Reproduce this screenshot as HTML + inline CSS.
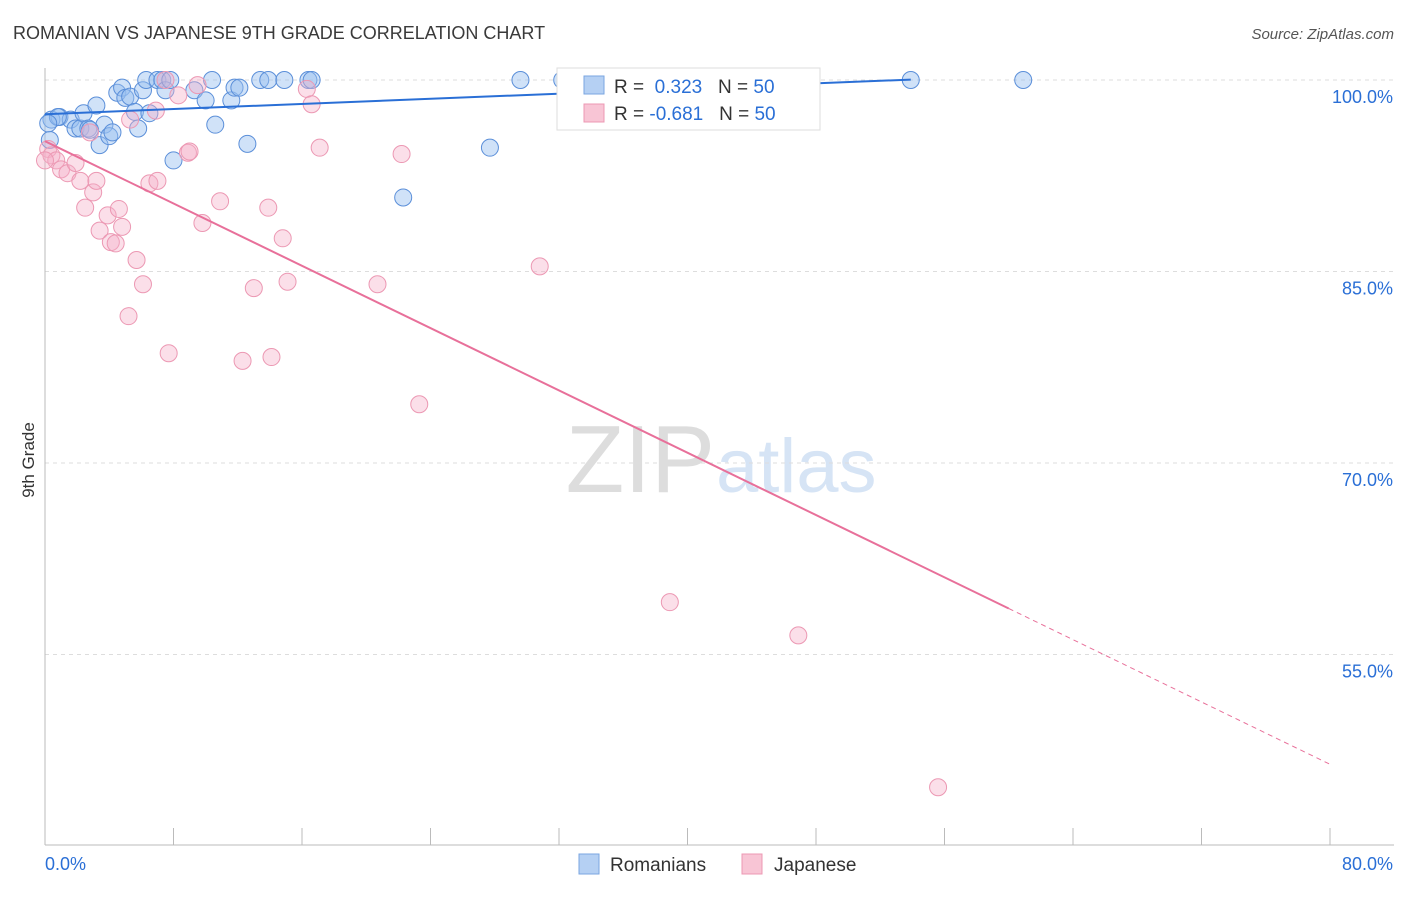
<!DOCTYPE html>
<html><head><meta charset="utf-8"><style>
body{margin:0;background:#fff;font-family:"Liberation Sans",sans-serif}
svg text{font-family:"Liberation Sans",sans-serif}
</style></head><body>
<svg id="c" width="1406" height="892">
<text x="13" y="39" font-size="18" fill="#3a3a3a">ROMANIAN VS JAPANESE 9TH GRADE CORRELATION CHART</text>
<text x="1394" y="39" font-size="15" fill="#555" font-style="italic" text-anchor="end">Source: ZipAtlas.com</text>
<text x="34" y="460" font-size="17" fill="#333" transform="rotate(-90 34 460)" text-anchor="middle">9th Grade</text>
<text x="715" y="492" font-size="96" fill="#ddd" text-anchor="end" font-family="Liberation Serif">ZIP</text>
<text x="716" y="492" font-size="76" fill="#d6e4f5">atlas</text>
<g id="grid"></g><g id="axes"></g><g id="pts"></g><g id="lines"></g>
<g>
<rect x="557" y="68" width="263" height="62" fill="#fff" stroke="#ddd"/>
<rect x="584" y="76" width="20" height="18" fill="#b5d0f3" stroke="#7aa6e0"/>
<text x="614" y="93" font-size="19" fill="#333">R = <tspan fill="#2a6fd6">&#160;0.323</tspan>&#160;&#160;&#160;N = <tspan fill="#2a6fd6">50</tspan></text>
<rect x="584" y="104" width="20" height="18" fill="#f8c5d5" stroke="#ec98b3"/>
<text x="614" y="120" font-size="19" fill="#333">R = <tspan fill="#2a6fd6">-0.681</tspan>&#160;&#160;&#160;N = <tspan fill="#2a6fd6">50</tspan></text>
</g>
<g>
<rect x="579" y="854" width="20" height="20" fill="#b5d0f3" stroke="#7aa6e0"/>
<text x="610" y="871" font-size="19" fill="#333">Romanians</text>
<rect x="742" y="854" width="20" height="20" fill="#f8c5d5" stroke="#ec98b3"/>
<text x="774" y="871" font-size="19" fill="#333">Japanese</text>
</g>
</svg>
<script>
const xTicks=[0,8,16,24,32,40,48,56,64,72,80];
const yTicks=[100,85,70,55];
const romX=[0.3,0.4,0.9,1.6,1.9,2.2,2.4,2.7,3.2,3.4,3.7,4.0,4.2,4.5,4.8,5.0,5.3,5.6,5.8,6.1,6.3,6.5,7.0,7.3,7.5,7.8,8.0,9.3,10.0,10.4,10.6,11.6,11.8,12.1,12.6,13.4,13.9,14.9,16.4,16.6,22.3,27.7,29.6,32.2,35.5,53.9,60.9,0.8,2.8,0.2];
const romY=[95.3,96.9,97.1,96.9,96.2,96.2,97.4,96.2,98.0,94.9,96.5,95.6,95.9,99.0,99.4,98.6,98.7,97.5,96.2,99.2,100,97.4,100,100,99.2,100,93.7,99.2,98.4,100,96.5,98.4,99.4,99.4,95.0,100,100,100,100,100,90.8,94.7,100,100,100,100,100,97.1,96.1,96.6];
const jpX=[0.2,0.4,0.7,1.0,1.4,1.9,2.2,2.5,2.8,3.0,3.2,3.4,3.9,4.1,4.4,4.6,4.8,5.3,5.7,6.1,5.2,6.5,6.9,7.0,7.7,8.3,8.9,9.0,9.5,9.8,10.9,12.3,13.0,13.9,14.1,14.8,15.1,16.3,16.6,17.1,20.7,22.2,23.3,30.8,36.9,38.9,46.9,55.6,0.0,7.5];
const jpY=[94.6,94.1,93.7,93.0,92.7,93.5,92.1,90.0,95.9,91.2,92.1,88.2,89.4,87.3,87.2,89.9,88.5,96.9,85.9,84.0,81.5,91.9,97.6,92.1,78.6,98.8,94.3,94.4,99.6,88.8,90.5,78.0,83.7,90.0,78.3,87.6,84.2,99.3,98.1,94.7,84.0,94.2,74.6,85.4,100,59.1,56.5,44.6,93.7,100];
const X=v=>45+v/80*1285, Y=v=>80+(100-v)/15*191.5;
const NS='http://www.w3.org/2000/svg';
function mk(tag,attrs,parent){const e=document.createElementNS(NS,tag);for(const k in attrs)e.setAttribute(k,attrs[k]);document.getElementById(parent).appendChild(e);return e;}
yTicks.forEach(v=>{
 const l=mk('line',{x1:45,x2:1394,y1:Y(v),y2:Y(v),stroke:'#ddd','stroke-dasharray':'4,4'},'grid');
 
 
 const t=mk('text',{x:1393,y:Y(v)+23,'font-size':18,fill:'#2a6fd6','text-anchor':'end'},'grid');
 t.textContent=v.toFixed(1)+'%';
 
 
});
mk('line',{x1:45,x2:45,y1:68,y2:845,stroke:'#bbb'},'axes');
mk('line',{x1:45,x2:1394,y1:845,y2:845,stroke:'#bbb'},'axes');
xTicks.forEach(v=>{
 const l=mk('line',{x1:X(v),x2:X(v),y1:828,y2:845,stroke:'#bbb'},'axes');
 
 
});
[[0,'start'],[80,'end']].forEach(([v,a])=>{
 const t=mk('text',{x:v==0?X(v):X(v)+63,y:870,'font-size':18,fill:'#2a6fd6','text-anchor':a},'axes');
 t.textContent=v.toFixed(1)+'%';
 
 
});
romX.forEach((x,i)=>{
 const c=mk('circle',{cx:X(x),cy:Y(romY[i]),r:8.5,fill:'rgba(150,190,240,0.45)',stroke:'#5b8fd9','stroke-width':1},'pts');
 
 
});
jpX.forEach((x,i)=>{
 const c=mk('circle',{cx:X(x),cy:Y(jpY[i]),r:8.5,fill:'rgba(245,175,200,0.4)',stroke:'#ec98b3','stroke-width':1},'pts');
 
 
});
function fit(xs,ys){const n=xs.length,mx=xs.reduce((a,b)=>a+b)/n,my=ys.reduce((a,b)=>a+b)/n;let sxy=0,sxx=0;xs.forEach((x,i)=>{sxy+=(x-mx)*(ys[i]-my);sxx+=(x-mx)**2});const b=sxy/sxx;return [my-b*mx,b];}
const [ra,rb]=fit(romX,romY);
let l=mk('line',{x1:X(0),y1:Y(ra),x2:X(53.9),y2:Y(ra+rb*53.9),stroke:'#2a6fd6','stroke-width':2},'lines');


const [ja,jb]=fit(jpX,jpY);
l=mk('line',{x1:X(0),y1:Y(ja),x2:X(60),y2:Y(ja+jb*60),stroke:'#e8709a','stroke-width':2},'lines');


l=mk('line',{x1:X(60),y1:Y(ja+jb*60),x2:X(80),y2:Y(ja+jb*80),stroke:'#e8709a','stroke-width':1,'stroke-dasharray':'5,4'},'lines');


</script>
</body></html>
